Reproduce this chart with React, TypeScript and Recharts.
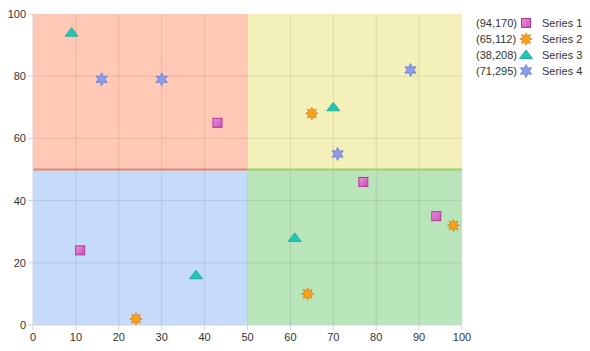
import React from 'react';
import {
  ScatterChart,
  Scatter,
  XAxis,
  YAxis,
  ReferenceArea,
  ReferenceLine,
} from 'recharts';

const xTicks = [0, 10, 20, 30, 40, 50, 60, 70, 80, 90, 100];
const yTicks = [0, 20, 40, 60, 80, 100];
const xGrid = [10, 20, 30, 40, 50, 60, 70, 80, 90];
const yGrid = [20, 40, 60, 80];

const series1 = [
  { x: 43, y: 65 },
  { x: 11, y: 24 },
  { x: 77, y: 46 },
  { x: 94, y: 35 },
];
const series2 = [
  { x: 65, y: 68 },
  { x: 24, y: 2 },
  { x: 64, y: 10 },
  { x: 98, y: 32 },
];
const series3 = [
  { x: 9, y: 94 },
  { x: 70, y: 70 },
  { x: 61, y: 28 },
  { x: 38, y: 16 },
];
const series4 = [
  { x: 16, y: 79 },
  { x: 30, y: 79 },
  { x: 88, y: 82 },
  { x: 71, y: 55 },
];

const seriesNames = ['Series 1', 'Series 2', 'Series 3', 'Series 4'];
const legendLabels = ['(94,170)', '(65,112)', '(38,208)', '(71,295)'];

const FONT = '"Liberation Sans", Arial, sans-serif';

function starPath(cx: number, cy: number, n: number, ro: number, ri: number, rot: number) {
  const pts: string[] = [];
  for (let i = 0; i < n * 2; i++) {
    const r = i % 2 === 0 ? ro : ri;
    const a = rot + (Math.PI * i) / n;
    pts.push(`${(cx + r * Math.sin(a)).toFixed(2)},${(cy - r * Math.cos(a)).toFixed(2)}`);
  }
  return 'M' + pts.join('L') + 'Z';
}

const SquareMark = ({ cx, cy }: any) => (
  <rect
    x={cx - 4.5}
    y={cy - 4.5}
    width={9}
    height={9}
    fill="url(#sqGrad)"
    stroke="#b03598"
    strokeWidth={1}
  />
);
const Star8Mark = ({ cx, cy }: any) => (
  <path d={starPath(cx, cy, 8, 6.2, 3.4, 0)} fill="#f7a21c" stroke="#e57f10" strokeWidth={0.8} />
);
const TriMark = ({ cx, cy }: any) => (
  <path
    d={`M${cx},${cy - 5}L${cx + 6.5},${cy + 3.5}L${cx - 6.5},${cy + 3.5}Z`}
    fill="#22c6b6"
    stroke="#14a496"
    strokeWidth={0.8}
  />
);
const Star6Mark = ({ cx, cy }: any) => (
  <path d={starPath(cx, cy, 6, 6.5, 3.4, 0)} fill="#8e9de6" stroke="#6b7bd6" strokeWidth={0.8} />
);

const markers = [SquareMark, Star8Mark, TriMark, Star6Mark];

const LegendBox = () => (
  <div
    style={{
      position: 'absolute',
      left: 476,
      top: 15,
      width: 114,
      fontFamily: FONT,
      fontSize: 11,
      color: '#333',
      whiteSpace: 'nowrap',
    }}
  >
    {seriesNames.map((name, i) => {
      const M = markers[i];
      return (
        <div key={name} style={{ display: 'flex', alignItems: 'center', height: 16 }}>
          <span style={{ width: 42, display: 'inline-block' }}>{legendLabels[i]}</span>
          <svg width={16} height={14} style={{ marginLeft: 0, marginRight: 8 }}>
            <defs>
              <linearGradient id="sqGrad" x1="0" y1="0" x2="1" y2="1">
                <stop offset="0%" stopColor="#ea8fda" />
                <stop offset="100%" stopColor="#cc50b8" />
              </linearGradient>
            </defs>
            <M cx={8} cy={7} />
          </svg>
          <span>{name}</span>
        </div>
      );
    })}
  </div>
);

export default function App() {
  const tickStyle = { fontFamily: FONT, fontSize: 11, fill: '#333' };
  return (
    <div style={{ position: 'absolute', left: 0, top: 0, width: 590, height: 351, background: '#fff' }}>
      <ScatterChart width={590} height={351} margin={{ top: 14, right: 128, bottom: 0, left: 0 }}>
        <defs>
          <linearGradient id="sqGrad" x1="0" y1="0" x2="1" y2="1">
            <stop offset="0%" stopColor="#ea8fda" />
            <stop offset="100%" stopColor="#cc50b8" />
          </linearGradient>
        </defs>
        <XAxis
          type="number"
          dataKey="x"
          domain={[0, 100]}
          ticks={xTicks}
          height={26}
          tick={tickStyle}
          tickSize={5}
          tickMargin={3}
          stroke="#cfd3da"
          allowDataOverflow
        />
        <YAxis
          type="number"
          dataKey="y"
          domain={[0, 100]}
          ticks={yTicks}
          width={33}
          tick={tickStyle}
          tickSize={5}
          tickMargin={2}
          stroke="#cfd3da"
          allowDataOverflow
        />
        <ReferenceArea x1={0} x2={50} y1={50} y2={100} fill="#ffc9b5" fillOpacity={1} stroke="none" />
        <ReferenceArea x1={50} x2={100} y1={50} y2={100} fill="#f3f0ba" fillOpacity={1} stroke="none" />
        <ReferenceArea x1={0} x2={50} y1={0} y2={50} fill="#c6dafa" fillOpacity={1} stroke="none" />
        <ReferenceArea x1={50} x2={100} y1={0} y2={50} fill="#b9e5bb" fillOpacity={1} stroke="none" />
        {xGrid.map((v) => (
          <ReferenceLine key={'gx' + v} x={v} stroke="rgba(0,0,0,0.09)" strokeWidth={1} />
        ))}
        {yGrid.map((v) => (
          <ReferenceLine key={'gy' + v} y={v} stroke="rgba(0,0,0,0.09)" strokeWidth={1} />
        ))}
        <ReferenceLine
          segment={[
            { x: 0, y: 50 },
            { x: 50, y: 50 },
          ]}
          stroke="#e8836e"
          strokeWidth={2}
        />
        <ReferenceLine
          segment={[
            { x: 50, y: 50 },
            { x: 100, y: 50 },
          ]}
          stroke="#9fd262"
          strokeWidth={2}
        />
        <Scatter name={seriesNames[0]} data={series1} shape={SquareMark} isAnimationActive={false} />
        <Scatter name={seriesNames[1]} data={series2} shape={Star8Mark} isAnimationActive={false} />
        <Scatter name={seriesNames[2]} data={series3} shape={TriMark} isAnimationActive={false} />
        <Scatter name={seriesNames[3]} data={series4} shape={Star6Mark} isAnimationActive={false} />
      </ScatterChart>
      <LegendBox />
    </div>
  );
}
